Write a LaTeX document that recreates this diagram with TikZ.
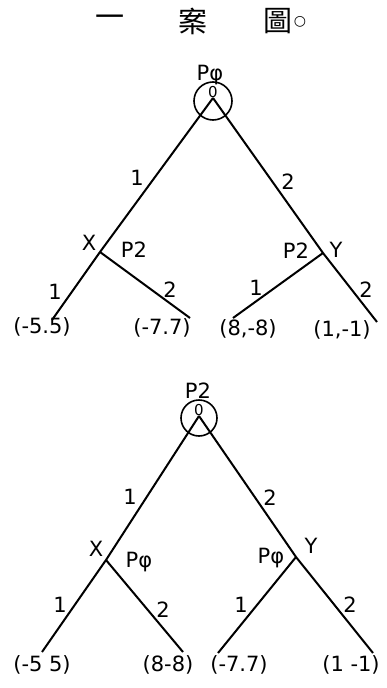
\documentclass[tikz,border=0pt]{standalone}
\usepackage{fontspec}
\setmainfont{DejaVu Sans}
\newfontfamily\cjk{Noto Sans CJK TC}
\tikzset{
  edge/.style={line width=2pt},
  root/.style={circle,draw,line width=1.6pt,minimum size=38pt,inner sep=0pt},
  lab/.style={font=\fontsize{21}{21}\selectfont,inner sep=0pt},
  leaf/.style={font=\fontsize{21}{21}\selectfont,inner sep=0pt},
  zero/.style={font=\fontsize{15}{15}\selectfont,inner sep=0pt},
  ttl/.style={font=\cjk\fontsize{29}{29}\selectfont,inner sep=0pt}
}
\begin{document}
\begin{tikzpicture}[x=1pt,y=-1pt]
\useasboundingbox (0,0) rectangle (386,688);
% title
\node[ttl] (t1) at (110,21) {一};
\node[ttl] (t2) at (193,21) {案};
\node[ttl] (t3) at (278,21) {圖};
\node[font=\fontsize{14}{14}\selectfont,inner sep=0pt] (t4) at (300,22) {○};
% ---------- top tree ----------
\node[lab] (p1) at (210,75) {Pφ};
\node[root] (r1) at (213,101) {};
\node[zero] (z1) at (213,92) {0};
\coordinate (a1) at (213,98);
\coordinate (x1) at (100,252);
\coordinate (y1) at (323,253);
\coordinate (e11) at (52,320);
\coordinate (e12) at (190,318);
\coordinate (e13) at (233,318);
\coordinate (e14) at (377,322);
\draw[edge] (a1) -- (x1) -- (e11);
\draw[edge] (a1) -- (y1) -- (e14);
\draw[edge] (x1) -- (e12);
\draw[edge] (y1) -- (e13);
\node[lab] (l11) at (137,178) {1};
\node[lab] (l12) at (288,182) {2};
\node[lab] (lx1) at (89,243) {X};
\node[lab] (lp1) at (134,250) {P2};
\node[lab] (lp2) at (296,251) {P2};
\node[lab] (ly1) at (336,250) {Y};
\node[lab] (l13) at (55,292) {1};
\node[lab] (l14) at (170,290) {2};
\node[lab] (l15) at (256,288) {1};
\node[lab] (l16) at (366,290) {2};
\node[leaf] (f11) at (42,327) {(-5.5)};
\node[leaf] (f12) at (162,328) {(-7.7)};
\node[leaf] (f13) at (248,329) {(8,-8)};
\node[leaf] (f14) at (342,330) {(1,-1)};
% ---------- bottom tree ----------
\node[lab] (p2) at (198,391) {P2};
\node[root,minimum size=36pt] (r2) at (199,418) {};
\node[zero] (z2) at (199,410) {0};
\coordinate (a2) at (199,416);
\coordinate (x2) at (106,560);
\coordinate (y2) at (296,557);
\coordinate (e21) at (42,652);
\coordinate (e22) at (183,652);
\coordinate (e23) at (218,653);
\coordinate (e24) at (373,653);
\draw[edge] (a2) -- (x2) -- (e21);
\draw[edge] (a2) -- (y2) -- (e24);
\draw[edge] (x2) -- (e22);
\draw[edge] (y2) -- (e23);
\node[lab] (l21) at (130,497) {1};
\node[lab] (l22) at (270,498) {2};
\node[lab] (lx2) at (96,549) {X};
\node[lab] (lp3) at (139,562) {Pφ};
\node[lab] (lp4) at (271,558) {Pφ};
\node[lab] (ly2) at (311,546) {Y};
\node[lab] (l23) at (60,605) {1};
\node[lab] (l24) at (163,610) {2};
\node[lab] (l25) at (241,605) {1};
\node[lab] (l26) at (350,605) {2};
\node[leaf] (f21) at (42,665) {(-5 5)};
\node[leaf] (f22) at (168,665) {(8-8)};
\node[leaf] (f23) at (239,665) {(-7.7)};
\node[leaf] (f24) at (351,665) {(1 -1)};
\end{tikzpicture}
\end{document}
